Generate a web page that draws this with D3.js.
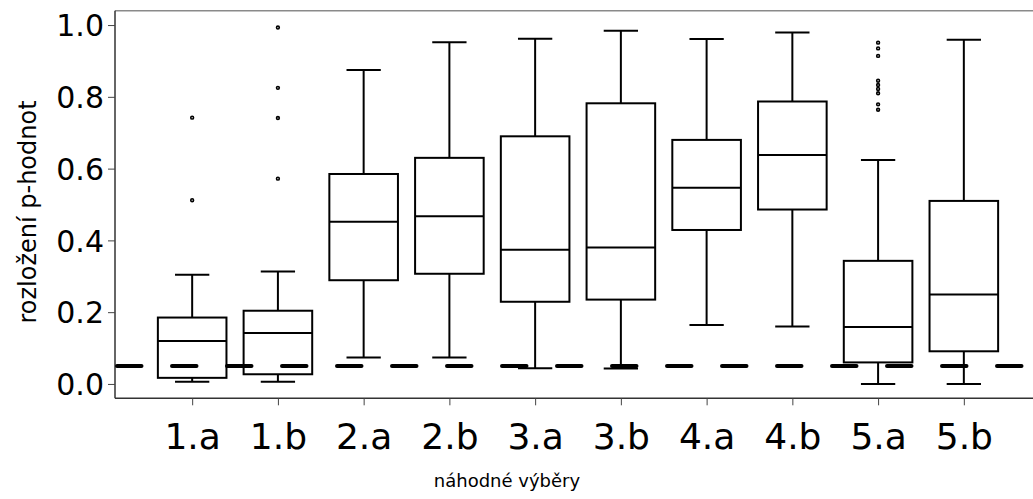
<!DOCTYPE html>
<html>
<head>
<meta charset="utf-8">
<script src="https://cdn.jsdelivr.net/npm/d3@7"></script>
<style>
  html, body { margin: 0; padding: 0; background: #fff; }
  svg { display: block; font-family: "DejaVu Sans", sans-serif; }
</style>
</head>
<body>
<svg id="chart" width="1033" height="499"></svg>
<script>
// Box-plot summaries of p-values for each random sample
const categories  = ["1.a", "1.b", "2.a", "2.b", "3.a", "3.b", "4.a", "4.b", "5.a", "5.b"];
const whiskerLow  = [0.006, 0.006, 0.074, 0.074, 0.044, 0.043, 0.164, 0.160, 0.000, 0.000];
const quartile1   = [0.017, 0.027, 0.289, 0.307, 0.229, 0.235, 0.429, 0.486, 0.060, 0.091];
const medians     = [0.120, 0.142, 0.452, 0.467, 0.374, 0.380, 0.547, 0.638, 0.159, 0.249];
const quartile3   = [0.185, 0.204, 0.585, 0.630, 0.690, 0.782, 0.680, 0.787, 0.343, 0.510];
const whiskerHigh = [0.304, 0.313, 0.875, 0.952, 0.962, 0.984, 0.961, 0.979, 0.624, 0.959];
const outliers    = [
  [0.742, 0.512],
  [0.993, 0.825, 0.741, 0.572],
  [], [], [], [], [], [],
  [0.951, 0.935, 0.914, 0.845, 0.833, 0.822, 0.810, 0.779, 0.764],
  []
];
const yTicks = [0.0, 0.2, 0.4, 0.6, 0.8, 1.0];
const significance = 0.05;

const svg = d3.select("#chart");
const plotLeft = 115, plotRight = 1041, plotTop = 10.7, plotBottom = 398.3;

const x = d3.scalePoint().domain(categories).range([plotLeft, plotRight]).padding(0.9);
const y = d3.scaleLinear().domain([-0.04, 1.04]).range([plotBottom, plotTop]);

const boxW = x.step() * 0.8;
const capW = boxW / 2;

const rows = categories.map((c, i) => ({
  c, lo: whiskerLow[i], q1: quartile1[i], med: medians[i], q3: quartile3[i], hi: whiskerHigh[i], out: outliers[i]
}));

// plot frame
svg.append("line").attr("x1", plotLeft).attr("x2", plotRight).attr("y1", plotTop).attr("y2", plotTop)
  .attr("stroke", "#8a8a8a").attr("stroke-width", 1.5);

// y axis
const yAxis = svg.append("g").attr("transform", `translate(${plotLeft},0)`)
  .call(d3.axisLeft(y).tickValues(yTicks).tickFormat(d3.format(".1f")).tickSize(7).tickPadding(4));
yAxis.select(".domain").attr("stroke", "#333").attr("stroke-width", 1.5)
  .attr("d", `M0,${plotTop}V${plotBottom}`);
yAxis.selectAll(".tick line").attr("stroke", "#444");
yAxis.selectAll(".tick text").attr("font-size", 30).attr("font-family", "DejaVu Sans")
  .attr("fill", "#000").attr("dy", "0.36em");

// x axis
const xAxis = svg.append("g").attr("transform", `translate(0,${plotBottom})`)
  .call(d3.axisBottom(x).tickSize(7).tickPadding(18));
xAxis.select(".domain").attr("stroke", "#333").attr("stroke-width", 1.5)
  .attr("d", `M${plotLeft},0H${plotRight}`);
xAxis.selectAll(".tick line").attr("stroke", "#444");
xAxis.selectAll(".tick text").attr("font-size", 36).attr("font-family", "DejaVu Sans")
  .attr("fill", "#000").attr("dy", "0.71em");

// boxes
const g = svg.append("g").attr("fill", "none").attr("stroke", "#000").attr("stroke-width", 2);
const box = g.selectAll("g.box").data(rows).join("g").attr("class", "box");

box.append("line").attr("x1", d => x(d.c)).attr("x2", d => x(d.c))
  .attr("y1", d => y(d.q3)).attr("y2", d => y(d.hi));
box.append("line").attr("x1", d => x(d.c)).attr("x2", d => x(d.c))
  .attr("y1", d => y(d.q1)).attr("y2", d => y(d.lo));
box.append("line").attr("x1", d => x(d.c) - capW / 2).attr("x2", d => x(d.c) + capW / 2)
  .attr("y1", d => y(d.hi)).attr("y2", d => y(d.hi));
box.append("line").attr("x1", d => x(d.c) - capW / 2).attr("x2", d => x(d.c) + capW / 2)
  .attr("y1", d => y(d.lo)).attr("y2", d => y(d.lo));
box.append("rect").attr("x", d => x(d.c) - boxW / 2).attr("width", boxW)
  .attr("y", d => y(d.q3)).attr("height", d => y(d.q1) - y(d.q3));
box.append("line").attr("x1", d => x(d.c) - boxW / 2).attr("x2", d => x(d.c) + boxW / 2)
  .attr("y1", d => y(d.med)).attr("y2", d => y(d.med));

// outliers
box.selectAll("circle").data(d => d.out.map(v => ({ c: d.c, v }))).join("circle")
  .attr("cx", d => x(d.c)).attr("cy", d => y(d.v)).attr("r", 1.4)
  .attr("stroke-width", 1.6).attr("fill", "#fff");

// 0.05 significance level
svg.append("line").attr("x1", plotLeft).attr("x2", plotRight)
  .attr("y1", y(significance)).attr("y2", y(significance))
  .attr("stroke", "#000").attr("stroke-width", 4).attr("stroke-linecap", "round")
  .attr("stroke-dasharray", "24.5 30.5").attr("stroke-dashoffset", -2);

// axis titles
svg.append("text").attr("x", 507).attr("y", 487).attr("text-anchor", "middle")
  .attr("font-size", 18).attr("fill", "#000").text("náhodné výběry");
svg.append("text").attr("transform", "translate(36,212) rotate(-90)").attr("text-anchor", "middle")
  .attr("font-size", 24).attr("fill", "#000").text("rozložení p-hodnot");
</script>
</body>
</html>
